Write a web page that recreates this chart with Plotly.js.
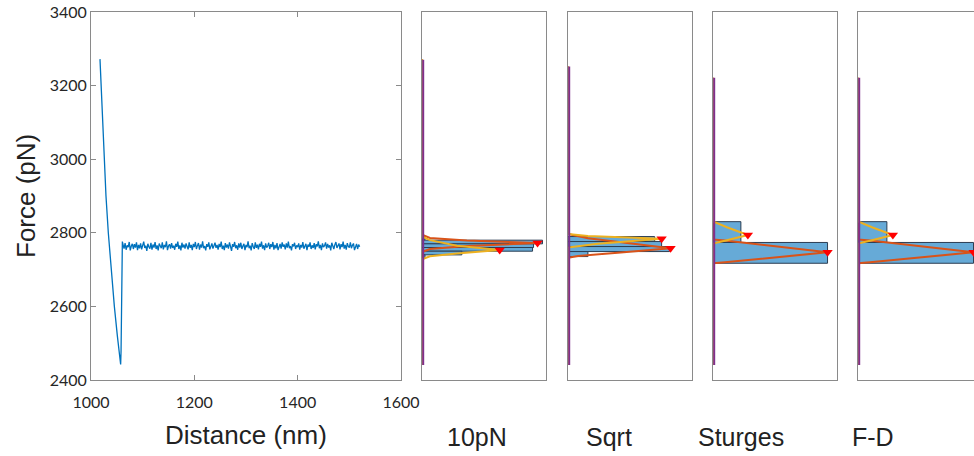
<!DOCTYPE html>
<html>
<head>
<meta charset="utf-8">
<script src="https://cdn.plot.ly/plotly-3.0.1.min.js"></script>
<style>
html,body{margin:0;padding:0;overflow:hidden;background:#fff;}
#chart{width:984px;height:456px;}
</style>
</head>
<body>
<div id="chart"></div>
<script>
// ---- Main force-distance curve ----
const distDescend = [1017.4, 1019.4, 1022.3, 1025.2, 1029.0, 1033.5, 1039.0, 1045.2, 1051.0, 1055.5, 1057.4, 1058.2, 1058.8, 1060.7];
const forceDescend = [3272, 3200, 3100, 3000, 2900, 2800, 2700, 2600, 2520, 2470, 2442, 2480, 2560, 2776];
const plateauStart = 1062;   // nm
const plateauStep = 2;       // nm between samples
const plateauForce = [
2768,2757,2772,2754,2766,2761,2775,2752,2764,2770,
2756,2769,2760,2774,2753,2767,2758,2771,2755,2763,
2776,2759,2765,2751,2770,2762,2757,2773,2754,2768,
2760,2775,2756,2766,2752,2771,2763,2758,2774,2755,
2767,2761,2777,2753,2764,2769,2757,2772,2759,2765,
2754,2770,2762,2776,2756,2766,2752,2773,2760,2768,
2757,2771,2763,2755,2774,2759,2767,2753,2770,2761,
2775,2756,2765,2772,2754,2768,2760,2777,2758,2764,
2752,2769,2762,2774,2755,2766,2771,2757,2763,2773,
2759,2767,2754,2770,2761,2776,2756,2765,2753,2772,
2760,2768,2757,2774,2763,2751,2769,2762,2775,2758,
2766,2754,2771,2760,2773,2756,2764,2770,2753,2767,
2761,2777,2758,2765,2752,2772,2763,2756,2774,2759,
2768,2755,2770,2762,2776,2757,2766,2753,2771,2760,
2764,2773,2756,2769,2761,2775,2754,2767,2758,2772,
2753,2765,2770,2757,2774,2762,2768,2755,2771,2760,
2776,2758,2764,2752,2769,2763,2773,2756,2766,2761,
2771,2754,2767,2760,2775,2757,2765,2770,2753,2768,
2762,2774,2756,2766,2759,2772,2755,2769,2763,2777,
2758,2767,2753,2771,2761,2765,2774,2757,2770,2760,
2766,2752,2773,2762,2756,2768,2775,2759,2764,2771,
2755,2769,2761,2776,2757,2767,2754,2772,2763,2760,
2774,2758,2766,2771,2753,2765,2770,2756,2768,2762
];

// ---- Axis ticks ----
const distTicks = [1000, 1200, 1400, 1600];
const forceTicks = [2400, 2600, 2800, 3000, 3200, 3400];
const forceRange = [2400, 3400];
const dataSpan = [2441, 3272];

// ---- Histogram panels ----
const panelNames = ["10pN", "Sqrt", "Sturges", "F-D"];

const h10Centers = [2785, 2775, 2765, 2755, 2745, 2735];
const h10Width = 10;
const h10Counts = [3, 121, 112, 111, 40, 3];

const hSqrtCenters = [2783.0, 2769.4, 2755.8, 2742.2];
const hSqrtWidth = 13.6;
const hSqrtCounts = [87, 94, 102, 20];

const hStuCenters = [2745.5, 2802.0];
const hStuWidth = 56.5;
const hStuCounts = [115, 28];

const hFDCenters = [2745.5, 2802.0];
const hFDWidth = 56.5;
const hFDCounts = [116, 29];

// fitted curves (count, force) per panel
const fitA10x = [0, 0, 8, 45, 116, 45, 8, 0, 0];
const fitA10y = [3272, 2795, 2786, 2779, 2772, 2764, 2756, 2748, 2441];
const fitB10x = [0, 0, 8, 35, 78, 35, 8, 0, 0];
const fitB10y = [3272, 2790, 2780, 2765, 2753, 2744, 2736, 2728, 2441];

const fitASqx = [0, 0, 20, 60, 103, 50, 10, 0, 0];
const fitASqy = [3252, 2797, 2785, 2772, 2758, 2746, 2737, 2732, 2441];
const fitBSqx = [0, 0, 20, 94, 30, 0, 0];
const fitBSqy = [3252, 2797, 2791, 2784, 2770, 2760, 2441];

const fitAStux = [0, 0, 12, 115, 12, 0, 0];
const fitAStuy = [3221, 2782, 2779, 2747, 2720, 2717, 2441];
const fitBStux = [0, 0, 14, 35, 14, 0, 0];
const fitBStuy = [3221, 2831, 2815, 2794, 2780, 2771, 2441];

const fitAFDx = [0, 0, 12, 116, 12, 0, 0];
const fitAFDy = [3221, 2782, 2779, 2747, 2720, 2717, 2441];
const fitBFDx = [0, 0, 14, 35, 14, 0, 0];
const fitBFDy = [3221, 2831, 2815, 2794, 2780, 2771, 2441];

const peak10x = [116, 78], peak10y = [2772, 2753];
const peakSqx = [94, 103], peakSqy = [2784, 2758];
const peakStux = [35, 115], peakStuy = [2794, 2747];
const peakFDx = [35, 116], peakFDy = [2794, 2747];

const spanTop = [3270, 3252, 3221, 3221];

// ---- Geometry (pixels) ----
const W = 984, H = 456;
const plotTop = 12, plotBottom = 380;
const mainL = 91, mainR = 401;
const panelL = [422, 568, 713, 858];
const panelW = 123.5;

const fx = p => p / W;
const fy = p => (H - p) / H;

const BLUE = '#0072BD', ORANGE = '#D95319', YELLOW = '#EDB120', PURPLE = '#7E2F8E';
const BARFILL = 'rgb(102,170,215)', BAREDGE = '#2b3d52';
const AXCOL = '#8a8a8a';

const plateauDist = plateauForce.map((_, i) => plateauStart + i * plateauStep);

const traces = [];
traces.push({
  x: distDescend.concat(plateauDist),
  y: forceDescend.concat(plateauForce),
  type: 'scatter', mode: 'lines',
  line: {color: BLUE, width: 1.3},
  xaxis: 'x', yaxis: 'y', hoverinfo: 'skip'
});

const panels = [
  {c: h10Centers, w: h10Width, n: h10Counts, ax: fitA10x, ay: fitA10y, bx: fitB10x, by: fitB10y, px: peak10x, py: peak10y},
  {c: hSqrtCenters, w: hSqrtWidth, n: hSqrtCounts, ax: fitASqx, ay: fitASqy, bx: fitBSqx, by: fitBSqy, px: peakSqx, py: peakSqy},
  {c: hStuCenters, w: hStuWidth, n: hStuCounts, ax: fitAStux, ay: fitAStuy, bx: fitBStux, by: fitBStuy, px: peakStux, py: peakStuy},
  {c: hFDCenters, w: hFDWidth, n: hFDCounts, ax: fitAFDx, ay: fitAFDy, bx: fitBFDx, by: fitBFDy, px: peakFDx, py: peakFDy}
];

panels.forEach((p, i) => {
  const xa = 'x' + (i + 2), ya = 'y' + (i + 2);
  traces.push({
    type: 'bar', orientation: 'h', y: p.c, x: p.n, width: p.c.map(() => p.w),
    marker: {color: BARFILL, line: {color: BAREDGE, width: 1}},
    xaxis: xa, yaxis: ya, hoverinfo: 'skip'
  });
  traces.push({
    x: p.ax, y: p.ay, type: 'scatter', mode: 'lines',
    line: {color: ORANGE, width: 2}, xaxis: xa, yaxis: ya, hoverinfo: 'skip'
  });
  traces.push({
    x: p.bx, y: p.by, type: 'scatter', mode: 'lines',
    line: {color: YELLOW, width: 2}, xaxis: xa, yaxis: ya, hoverinfo: 'skip'
  });
  traces.push({
    x: [1.2, 1.2], y: [dataSpan[0], spanTop[i]], type: 'scatter', mode: 'lines',
    line: {color: PURPLE, width: 2}, xaxis: xa, yaxis: ya, hoverinfo: 'skip'
  });
  traces.push({
    x: p.px, y: p.py, type: 'scatter', mode: 'markers',
    marker: {symbol: 'triangle-down', color: '#FF0000', size: 9},
    xaxis: xa, yaxis: ya, hoverinfo: 'skip', cliponaxis: false
  });
});

const tickFont = {family: 'Lato, "Open Sans", sans-serif', size: 16, color: '#262626'};
const ydom = [fy(plotBottom), fy(plotTop)];

const layout = {
  width: W, height: H,
  margin: {l: 0, r: 0, t: 0, b: 0},
  paper_bgcolor: '#fff', plot_bgcolor: '#fff',
  showlegend: false, bargap: 0,
  xaxis: {
    domain: [fx(mainL), fx(mainR)], range: [1000, 1600], tickvals: distTicks,
    ticks: 'inside', ticklen: 5, tickcolor: AXCOL, showline: true, linecolor: AXCOL, linewidth: 1,
    mirror: 'ticks', showgrid: false, zeroline: false, tickfont: tickFont, anchor: 'y',
    ticklabelstandoff: 8
  },
  yaxis: {
    domain: ydom, range: forceRange, tickvals: forceTicks,
    ticks: 'inside', ticklen: 5, tickcolor: AXCOL, showline: true, linecolor: AXCOL, linewidth: 1,
    mirror: 'ticks', showgrid: false, zeroline: false, tickfont: tickFont, anchor: 'x'
  },
  annotations: [
    {text: 'Distance (nm)', xref: 'paper', yref: 'paper', x: fx(246), y: fy(435), xanchor: 'center', yanchor: 'middle',
     showarrow: false, font: {family: 'Liberation Sans, Arial, sans-serif', size: 26, color: '#222'}},
    {text: 'Force (pN)', xref: 'paper', yref: 'paper', x: fx(26), y: fy(196), xanchor: 'center', yanchor: 'middle',
     textangle: -90, showarrow: false, font: {family: 'Liberation Sans, Arial, sans-serif', size: 26, color: '#222'}}
  ]
};

const labelX = [477, 609, 741, 873];
panelNames.forEach((name, i) => {
  layout['xaxis' + (i + 2)] = {
    domain: [fx(panelL[i]), Math.min(1, fx(panelL[i] + panelW))], range: [0, 124],
    showline: true, linecolor: AXCOL, linewidth: 1, mirror: true, ticks: '', showticklabels: false,
    showgrid: false, zeroline: false, anchor: 'y' + (i + 2)
  };
  layout['yaxis' + (i + 2)] = {
    domain: ydom, range: forceRange,
    showline: true, linecolor: AXCOL, linewidth: 1, mirror: true, ticks: '', showticklabels: false,
    showgrid: false, zeroline: false, anchor: 'x' + (i + 2)
  };
  layout.annotations.push({
    text: name, xref: 'paper', yref: 'paper', x: fx(labelX[i]), y: fy(437), xanchor: 'center', yanchor: 'middle',
    showarrow: false, font: {family: 'Liberation Sans, Arial, sans-serif', size: 25, color: '#222'}
  });
});

Plotly.newPlot('chart', traces, layout, {staticPlot: true, displayModeBar: false});
</script>
</body>
</html>
